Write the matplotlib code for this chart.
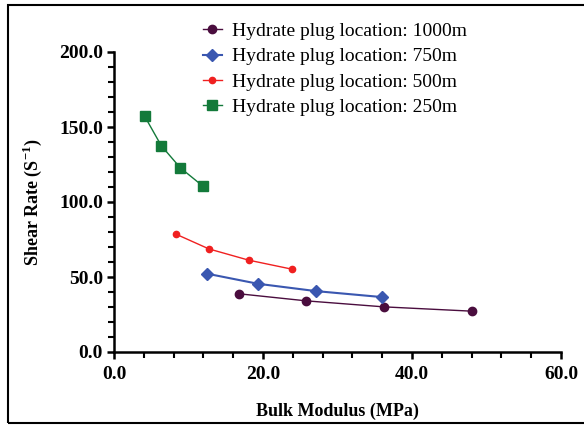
import numpy as np
import matplotlib.pyplot as plt
from matplotlib.patches import Rectangle
from matplotlib.ticker import MultipleLocator, FormatStrFormatter

plt.rcParams['font.family'] = ['Liberation Serif', 'DejaVu Serif']
plt.rcParams['mathtext.fontset'] = 'custom'
plt.rcParams['mathtext.rm'] = 'Liberation Serif'
plt.rcParams['mathtext.bf'] = 'Liberation Serif:bold'

# Hydrate plug location series: bulk modulus (MPa) vs shear rate (1/s)
x_1000 = [16.8, 25.8, 36.2, 48.1]
y_1000 = [38.8, 34.1, 30.1, 27.2]

x_750 = [12.5, 19.3, 27.1, 36.0]
y_750 = [52.2, 45.5, 40.6, 36.6]

x_500 = [8.3, 12.75, 18.1, 23.9]
y_500 = [78.6, 68.7, 61.2, 55.2]

x_250 = [4.1, 6.35, 8.9, 11.9]
y_250 = [157.3, 137.5, 122.8, 110.7]

labels = ['Hydrate plug location: 1000m', 'Hydrate plug location: 750m',
          'Hydrate plug location: 500m', 'Hydrate plug location: 250m']

fig = plt.figure(figsize=(5.84, 4.25), dpi=100)
ax = fig.add_axes([114/584, 1 - 352/425, (561 - 114)/584, (352 - 52)/425])

h1, = ax.plot(x_1000, y_1000, color='#4a0d3e', marker='o', ms=6, lw=1.0)
h2, = ax.plot(x_750, y_750, color='#3a57b0', marker='D', ms=6.5, lw=1.5)
h3, = ax.plot(x_500, y_500, color='#f02020', marker='o', ms=4.5, lw=1.0)
h4, = ax.plot(x_250, y_250, color='#137a3a', marker='s', ms=7, lw=1.0)

ax.set_xlim(0, 60)
ax.set_ylim(0, 200)
ax.xaxis.set_major_locator(MultipleLocator(20))
ax.xaxis.set_minor_locator(MultipleLocator(4))
ax.yaxis.set_major_locator(MultipleLocator(50))
ax.yaxis.set_minor_locator(MultipleLocator(10))
ax.xaxis.set_major_formatter(FormatStrFormatter('%.1f'))
ax.yaxis.set_major_formatter(FormatStrFormatter('%.1f'))

for s in ['top', 'right']:
    ax.spines[s].set_visible(False)
for s in ['left', 'bottom']:
    ax.spines[s].set_linewidth(1.8)
ax.tick_params(which='major', length=5, width=1.8, labelsize=14)
ax.tick_params(which='minor', length=4, width=1.5)
ax.tick_params(axis='y', which='major', pad=3)
ax.tick_params(axis='x', which='major', pad=5)
for lab in ax.get_xticklabels() + ax.get_yticklabels():
    lab.set_fontweight('bold')

ax.set_xlabel('Bulk Modulus (MPa)', fontsize=13, fontweight='bold', labelpad=14)
ax.set_ylabel('Shear Rate (S$^{\\mathbf{-1}}$)', fontsize=13, fontweight='bold', labelpad=11)

fig.legend([h1, h2, h3, h4], labels, loc='upper left',
           bbox_to_anchor=(185/584, 1 - 5/425), frameon=False,
           fontsize=14, handlelength=1.0, labelspacing=0.4, handletextpad=0.5)

fig.patches.append(Rectangle((8/584, 1 - 423/425), 1.0, 418/425,
                             transform=fig.transFigure, fill=False,
                             edgecolor='black', lw=1.5))

fig.savefig('out.png', dpi=100)
